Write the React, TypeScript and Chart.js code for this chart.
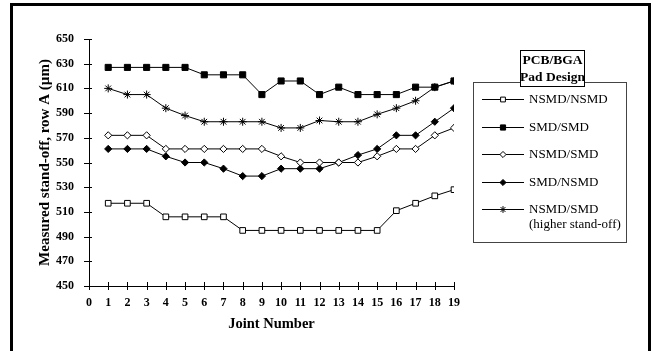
import React, { useEffect, useRef } from 'react';
import { Chart, registerables } from 'chart.js';

Chart.register(...registerables);

const FONT = "'Liberation Serif', 'Times New Roman', serif";

const joints = [1, 2, 3, 4, 5, 6, 7, 8, 9, 10, 11, 12, 13, 14, 15, 16, 17, 18, 19];
const xTickValues = [0, 1, 2, 3, 4, 5, 6, 7, 8, 9, 10, 11, 12, 13, 14, 15, 16, 17, 18, 19];
const yTickValues = [450, 470, 490, 510, 530, 550, 570, 590, 610, 630, 650];

const nsmdNsmd = [517, 517, 517, 506, 506, 506, 506, 495, 495, 495, 495, 495, 495, 495, 495, 511, 517, 523, 528];
const smdSmd = [627, 627, 627, 627, 627, 621, 621, 621, 605, 616, 616, 605, 611, 605, 605, 605, 611, 611, 616];
const nsmdSmd = [572, 572, 572, 561, 561, 561, 561, 561, 561, 555, 550, 550, 550, 550, 555, 561, 561, 572, 578];
const smdNsmd = [561, 561, 561, 555, 550, 550, 545, 539, 539, 545, 545, 545, 550, 556, 561, 572, 572, 583, 594];
const nsmdSmdHigh = [610, 605, 605, 594, 588, 583, 583, 583, 583, 578, 578, 584, 583, 583, 589, 594, 600, 611, 616];

const seriesLabels = ['NSMD/NSMD', 'SMD/SMD', 'NSMD/SMD', 'SMD/NSMD', 'NSMD/SMD'];
const seriesExtraLine = ['', '', '', '', '(higher stand-off)'];
const legendTitle = ['PCB/BGA', 'Pad Design'];
const xTitle = 'Joint Number';
const yTitle = 'Measured stand-off, row A (\u00b5m)';

type Marker = { style: string; fill: string; radius: number };
const markers: Marker[] = [
  { style: 'rect', fill: '#ffffff', radius: 4 },
  { style: 'rect', fill: '#000000', radius: 4.3 },
  { style: 'rectRot', fill: '#ffffff', radius: 3.6 },
  { style: 'rectRot', fill: '#000000', radius: 3.6 },
  { style: 'star', fill: '#000000', radius: 4 },
];

function drawMarker(ctx: CanvasRenderingContext2D, m: Marker, x: number, y: number, scale: number) {
  const r = m.radius * scale;
  ctx.save();
  ctx.lineWidth = 1;
  ctx.strokeStyle = '#000';
  ctx.fillStyle = m.fill;
  ctx.beginPath();
  if (m.style === 'rect') {
    const s = r * Math.SQRT1_2;
    ctx.rect(x - s, y - s, 2 * s, 2 * s);
    ctx.fill();
    ctx.stroke();
  } else if (m.style === 'rectRot') {
    ctx.moveTo(x, y - r);
    ctx.lineTo(x + r, y);
    ctx.lineTo(x, y + r);
    ctx.lineTo(x - r, y);
    ctx.closePath();
    ctx.fill();
    ctx.stroke();
  } else {
    const d = r * Math.SQRT1_2;
    ctx.moveTo(x - d, y - d);
    ctx.lineTo(x + d, y + d);
    ctx.moveTo(x + d, y - d);
    ctx.lineTo(x - d, y + d);
    ctx.moveTo(x, y - r);
    ctx.lineTo(x, y + r);
    ctx.stroke();
  }
  ctx.restore();
}

const framePlugin = {
  id: 'frame',
  beforeDraw(chart: any) {
    const ctx = chart.ctx as CanvasRenderingContext2D;
    ctx.save();
    ctx.fillStyle = '#ffffff';
    ctx.fillRect(0, 0, chart.width, chart.height);
    ctx.strokeStyle = '#000';
    ctx.lineWidth = 3;
    ctx.beginPath();
    ctx.moveTo(11.5, chart.height + 10);
    ctx.lineTo(11.5, 4.5);
    ctx.lineTo(649.5, 4.5);
    ctx.lineTo(649.5, chart.height + 10);
    ctx.stroke();
    ctx.restore();
  },
};

const crossTickPlugin = {
  id: 'crossTicks',
  afterDraw(chart: any) {
    const ctx = chart.ctx as CanvasRenderingContext2D;
    const { x, y } = chart.scales;
    const area = chart.chartArea;
    ctx.save();
    ctx.strokeStyle = '#000';
    ctx.lineWidth = 1;
    ctx.beginPath();
    y.ticks.forEach((t: any) => {
      const py = Math.round(y.getPixelForValue(t.value)) + 0.5;
      ctx.moveTo(area.left - 5, py);
      ctx.lineTo(area.left + 3, py);
    });
    x.ticks.forEach((t: any) => {
      const px = Math.round(x.getPixelForValue(t.value)) + 0.5;
      ctx.moveTo(px, area.bottom - 4);
      ctx.lineTo(px, area.bottom + 4);
    });
    ctx.stroke();
    ctx.restore();
  },
};

const legendPlugin = {
  id: 'boxLegend',
  afterDraw(chart: any) {
    const ctx = chart.ctx as CanvasRenderingContext2D;
    ctx.save();
    ctx.strokeStyle = '#444';
    ctx.lineWidth = 1;
    ctx.strokeRect(473.5, 82.5, 153, 160);
    ctx.fillStyle = '#fff';
    ctx.fillRect(520.5, 50.5, 64, 36);
    ctx.strokeStyle = '#000';
    ctx.strokeRect(520.5, 50.5, 64, 36);
    ctx.fillStyle = '#000';
    ctx.font = 'bold 13.5px ' + FONT;
    ctx.textAlign = 'center';
    ctx.textBaseline = 'middle';
    ctx.fillText(legendTitle[0], 552.5, 61);
    ctx.fillText(legendTitle[1], 552.5, 77.5);
    ctx.font = '13px ' + FONT;
    ctx.textAlign = 'left';
    seriesLabels.forEach((label, i) => {
      const yy = Math.round(99 + i * 27.6) + 0.5;
      ctx.beginPath();
      ctx.strokeStyle = '#000';
      ctx.moveTo(482, yy);
      ctx.lineTo(524, yy);
      ctx.stroke();
      drawMarker(ctx, markers[i], 503, yy, 0.85);
      ctx.fillStyle = '#000';
      ctx.fillText(label, 529, yy);
      if (seriesExtraLine[i]) ctx.fillText(seriesExtraLine[i], 529, yy + 15.5);
    });
    ctx.restore();
  },
};

export default function App() {
  const canvasRef = useRef<HTMLCanvasElement | null>(null);

  useEffect(() => {
    if (!canvasRef.current) return;
    const seriesValues = [nsmdNsmd, smdSmd, nsmdSmd, smdNsmd, nsmdSmdHigh];
    const chart = new Chart(canvasRef.current, {
      type: 'line',
      data: {
        datasets: seriesValues.map((vals, i) => ({
          label: seriesLabels[i] + (seriesExtraLine[i] ? ' ' + seriesExtraLine[i] : ''),
          data: joints.map((j, k) => ({ x: j, y: vals[k] })),
          borderColor: '#000',
          borderWidth: 1,
          pointStyle: markers[i].style as any,
          pointRadius: markers[i].radius,
          pointBackgroundColor: markers[i].fill,
          pointBorderColor: '#000',
          pointBorderWidth: 1,
          tension: 0,
          fill: false,
        })),
      },
      options: {
        responsive: false,
        animation: false,
        events: [],
        layout: { padding: { left: 0, top: 39, right: 199, bottom: 0 } },
        plugins: {
          legend: { display: false },
          tooltip: { enabled: false },
          title: { display: false },
        },
        scales: {
          x: {
            type: 'linear',
            min: 0,
            max: 19,
            afterBuildTicks: (s: any) => {
              s.ticks = xTickValues.map((v) => ({ value: v }));
            },
            afterFit: (s: any) => {
              s.height = 65;
            },
            grid: { display: false, drawTicks: false },
            border: { display: true, color: '#000', width: 1 },
            ticks: {
              color: '#000',
              padding: 10,
              maxRotation: 0,
              autoSkip: false,
              font: { family: FONT, size: 12, weight: 'bold' },
            },
            title: {
              display: true,
              text: xTitle,
              color: '#000',
              padding: { top: 0, bottom: 18 },
              font: { family: FONT, size: 14.5, weight: 'bold' },
            },
          },
          y: {
            type: 'linear',
            min: 450,
            max: 650,
            afterBuildTicks: (s: any) => {
              s.ticks = yTickValues.map((v) => ({ value: v }));
            },
            afterFit: (s: any) => {
              s.width = 89;
            },
            grid: { display: false, drawTicks: false },
            border: { display: true, color: '#000', width: 1 },
            ticks: {
              color: '#000',
              padding: 15,
              autoSkip: false,
              font: { family: FONT, size: 12, weight: 'bold' },
            },
            title: {
              display: true,
              text: yTitle,
              color: '#000',
              padding: { top: 36, bottom: 0 },
              font: { family: FONT, size: 15, weight: 'bold' },
            },
          },
        },
      },
      plugins: [framePlugin, crossTickPlugin, legendPlugin],
    });
    return () => chart.destroy();
  }, []);

  return (
    <div style={{ position: 'fixed', left: 0, top: 0, width: 653, height: 351, background: '#fff' }}>
      <canvas ref={canvasRef} width={653} height={351} style={{ display: 'block' }} />
    </div>
  );
}
